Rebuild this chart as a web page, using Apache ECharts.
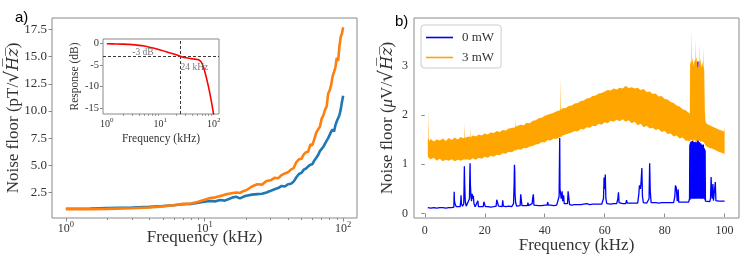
<!DOCTYPE html>
<html><head><meta charset="utf-8">
<script src="https://cdn.jsdelivr.net/npm/echarts@6/dist/echarts.min.js"></script>
<style>html,body{margin:0;padding:0;background:#fff}#c{width:748px;height:255px}</style>
</head><body><div id="c"></div>
<script>
// ---------- Panel a: noise floor vs frequency (log x) ----------
const freqA = [1, 1.5, 2, 3, 4, 5, 6, 7, 8, 9, 10, 11, 12, 13, 14, 15, 16, 17, 18, 19, 20, 22, 24, 26, 28, 30, 32, 34, 36, 38, 40, 42, 44, 46, 48, 50, 52, 54, 56, 58, 60, 62, 64, 66, 68, 70, 72, 74, 76, 78, 80, 82, 84, 86, 88, 90, 92, 94, 96, 98, 100];
const noiseBlueA = [1.0, 1.03, 1.07, 1.12, 1.17, 1.25, 1.33, 1.42, 1.45, 1.55, 1.65, 1.72, 1.68, 1.8, 1.75, 1.9, 2.05, 2.1, 1.95, 2.1, 2.2, 2.3, 2.35, 2.38, 2.5, 2.65, 2.8, 2.9, 3.1, 3.05, 3.25, 3.3, 3.5, 3.9, 4.2, 4.3, 4.6, 4.7, 4.9, 5.05, 5.1, 5.45, 5.7, 5.95, 6.3, 6.4, 6.7, 7.0, 7.1, 7.5, 7.65, 8.1, 8.3, 8.1, 8.7, 9.05, 9.2, 9.6, 10.1, 10.8, 11.4];
const noiseOrangeA = [0.95, 0.97, 0.99, 1.05, 1.12, 1.22, 1.32, 1.45, 1.48, 1.65, 1.82, 1.98, 2.05, 2.18, 2.3, 2.38, 2.45, 2.5, 2.45, 2.62, 2.7, 3.05, 3.25, 3.22, 3.55, 3.62, 3.85, 3.8, 4.1, 4.25, 4.35, 4.6, 4.75, 5.3, 5.55, 5.6, 6.0, 6.2, 6.25, 6.9, 6.85, 7.4, 8.0, 8.3, 8.55, 9.3, 9.6, 10.1, 10.4, 11.6, 11.9, 12.4, 13.2, 13.6, 14.0, 14.9, 14.6, 15.9, 16.8, 17.1, 17.7];
const yTicksA = [2.5, 5, 7.5, 10, 12.5, 15, 17.5];
const logMajor = [1, 10, 100];
const logMinor = [2, 3, 4, 5, 6, 7, 8, 9, 20, 30, 40, 50, 60, 70, 80, 90];

// ---------- Inset: filter response ----------
const respFreq = [1, 1.5, 2, 3, 4, 5, 6, 7, 8, 10, 13, 16, 20, 24, 28, 35, 42, 50, 56, 60, 65, 70, 75, 80, 85, 90, 95, 100];
const respDb = [0, -0.05, -0.1, -0.22, -0.38, -0.55, -0.75, -0.95, -1.12, -1.45, -1.85, -2.2, -2.6, -2.95, -3.2, -3.4, -3.55, -3.7, -4.0, -4.5, -5.6, -7.0, -8.5, -10.0, -11.6, -13.2, -14.9, -16.6];
const cutoffDb = -3;
const cutoffFreq = 24;
const insetYTicks = [0, -5, -10, -15];
const insetNotes = [[3.0, -2.1, '-3 dB'], [24, -5.6, '24 kHz']];

// ---------- Panel b: noise spectra ----------
// [frequency kHz, noise µV/√Hz]
const blueB = [[1.0,0.12],[2,0.11],[3,0.12],[4,0.11],[5,0.12],[6,0.12],[7,0.11],[8,0.12],[9,0.12],[9.7,0.13],[9.8,0.44],[9.9,0.25],[10.1,0.2],[10.5,0.14],[11,0.13],[11.8,0.14],[12.0,0.26],[12.1,0.37],[12.2,0.2],[12.6,0.15],[13.0,0.2],[13.1,0.55],[13.2,0.96],[13.3,0.6],[13.5,0.25],[13.8,0.15],[14.2,0.14],[14.9,0.3],[15.0,0.7],[15.1,1.02],[15.2,0.6],[15.4,0.35],[15.6,0.25],[15.8,0.4],[16.0,0.3],[16.2,0.36],[16.4,0.2],[16.8,0.14],[17.4,0.13],[17.7,0.26],[17.9,0.14],[18.5,0.13],[19.5,0.14],[19.7,0.24],[20.0,0.2],[20.2,0.14],[21,0.14],[22,0.13],[23,0.14],[23.8,0.15],[24.0,0.28],[24.3,0.26],[24.6,0.15],[25,0.14],[25.8,0.14],[26.0,0.27],[26.2,0.15],[27,0.14],[28,0.15],[29,0.14],[29.6,0.2],[29.8,0.6],[29.9,0.99],[30.0,0.85],[30.1,0.4],[30.3,0.22],[30.6,0.15],[31,0.15],[31.8,0.16],[32.0,0.39],[32.2,0.36],[32.4,0.16],[33,0.15],[34.2,0.16],[34.4,0.22],[34.6,0.16],[35,0.15],[35.8,0.2],[36.0,0.32],[36.2,0.39],[36.4,0.17],[37,0.16],[38,0.16],[39,0.16],[40,0.17],[40.8,0.17],[41.0,0.23],[41.2,0.17],[42,0.17],[43,0.16],[44,0.17],[44.6,0.2],[44.8,0.35],[45.0,1.53],[45.1,0.5],[45.3,0.54],[45.5,0.3],[45.8,0.45],[46.0,0.25],[46.3,0.37],[46.5,0.2],[47,0.18],[47.6,0.2],[47.8,0.45],[48.1,0.43],[48.3,0.18],[49,0.17],[50,0.18],[51,0.18],[52,0.18],[53,0.19],[54,0.2],[55,0.18],[56,0.19],[57,0.19],[58,0.19],[59,0.19],[59.6,0.3],[59.8,0.73],[60.0,0.5],[60.2,0.79],[60.4,0.3],[60.7,0.2],[61,0.19],[62,0.19],[63,0.2],[64,0.2],[64.4,0.3],[64.6,0.43],[64.8,0.22],[65,0.2],[66,0.2],[67,0.2],[67.3,0.27],[67.5,0.21],[68,0.2],[69,0.21],[70,0.21],[71,0.21],[71.4,0.4],[71.6,0.57],[71.9,0.5],[72.1,0.6],[72.4,0.92],[72.6,0.35],[72.9,0.22],[73.5,0.21],[74,0.21],[74.8,0.3],[75.0,1.02],[75.2,0.45],[75.5,0.22],[76,0.21],[77,0.22],[78,0.21],[79,0.22],[80,0.22],[81,0.22],[82,0.22],[83,0.22],[83.4,0.35],[83.6,0.57],[83.9,0.52],[84.2,0.25],[84.5,0.49],[84.7,0.23],[85,0.22],[86,0.23],[87,0.23],[88,0.23],
[88.3,0.3],[88.4,1.40],[88.5,0.28],[88.6,1.44],[88.7,0.32],[88.8,1.46],[88.9,0.3],[89.0,1.42],[89.1,0.35],[89.2,1.47],[89.3,0.3],[89.4,1.48],[89.5,0.4],[89.6,1.38],[89.7,0.3],[89.8,1.45],[89.9,0.33],[90.0,1.44],[90.1,0.3],[90.2,1.42],[90.3,0.35],[90.4,1.46],[90.5,0.3],[90.6,1.44],[90.7,0.38],[90.8,1.36],[90.9,0.3],[91.0,1.43],[91.1,3.08],[91.2,0.32],[91.3,1.41],[91.4,0.3],[91.5,1.45],[91.6,0.35],[91.7,1.44],[91.8,0.3],[91.9,1.38],[92.0,0.33],[92.1,1.42],[92.2,0.3],[92.3,1.4],[92.4,0.36],[92.5,1.35],[92.6,0.3],[92.7,1.39],[92.8,0.32],[92.9,1.40],[93.0,0.3],[93.1,1.33],[93.2,0.3],[93.3,1.31],[93.4,0.28],[93.5,1.28],[93.6,0.25],
[94,0.24],[95,0.24],[95.3,0.3],[95.5,0.74],[95.7,0.4],[95.9,0.3],[96.1,0.6],[96.3,0.26],[96.7,0.3],[96.9,0.64],[97.1,0.26],[98,0.25],[99,0.25],[100,0.25]];
// [frequency kHz, lower edge, upper edge] of the 3 mW noise band
const orangeBand = [[1.0,1.15,1.50],[1.2,1.13,1.52],[1.3,1.14,2.10],[1.4,1.12,1.47],[2,1.10,1.51],[3,1.13,1.46],[4,1.07,1.50],[5,1.11,1.48],[6,1.06,1.52],[7,1.09,1.47],[8,1.07,1.53],[9,1.10,1.49],[10,1.06,1.54],[11,1.09,1.50],[12,1.07,1.55],[13.1,1.10,1.52],[13.2,1.12,1.84],[13.3,1.08,1.53],[14,1.10,1.55],[15.1,1.08,1.56],[15.2,1.11,1.72],[15.3,1.09,1.54],[16,1.12,1.58],[17,1.09,1.56],[18,1.13,1.60],[19,1.11,1.58],[20,1.15,1.62],[21,1.13,1.60],[22,1.17,1.64],[23,1.15,1.63],[24,1.19,1.67],[25,1.18,1.65],[26,1.22,1.69],[27,1.21,1.68],[28,1.25,1.72],[29,1.24,1.73],[30.1,1.28,1.75],[30.2,1.30,1.91],[30.3,1.27,1.76],[31,1.30,1.78],[32,1.29,1.80],[33,1.33,1.79],[34,1.32,1.84],[35,1.36,1.83],[36,1.37,1.88],[37,1.40,1.89],[38,1.41,1.93],[39,1.45,1.94],[40,1.44,1.98],[41,1.49,2.00],[42,1.48,2.02],[43,1.52,2.04],[44,1.51,2.07],[45.1,1.55,2.09],[45.2,1.56,2.77],[45.3,1.54,2.10],[46,1.58,2.13],[47,1.60,2.14],[48,1.62,2.18],[49,1.64,2.19],[50,1.67,2.23],[51,1.66,2.24],[52,1.71,2.28],[53,1.70,2.29],[54,1.75,2.33],[55,1.74,2.34],[56,1.78,2.38],[57,1.77,2.39],[58,1.82,2.43],[59,1.80,2.44],[60,1.85,2.47],[61,1.83,2.50],[62,1.88,2.49],[63,1.86,2.53],[64,1.90,2.51],[65,1.87,2.55],[66,1.91,2.53],[67,1.86,2.59],[68,1.89,2.54],[69,1.83,2.56],[70,1.86,2.53],[71,1.79,2.55],[72,1.82,2.50],[73,1.75,2.52],[74,1.78,2.46],[75,1.72,2.47],[76,1.74,2.42],[77,1.69,2.43],[78,1.71,2.37],[79,1.65,2.38],[80,1.67,2.32],[81,1.61,2.31],[82,1.62,2.26],[83,1.56,2.24],[84,1.58,2.19],[85,1.52,2.17],[86,1.54,2.11],[87,1.48,2.09],[88,1.47,2.04],[88.4,1.46,2.02],[88.5,1.50,3.10],[88.8,1.48,3.02],[88.9,1.50,3.76],[89.0,1.49,3.05],[89.3,1.47,3.15],[89.6,1.50,2.98],[89.9,1.48,3.12],[90.1,1.49,3.04],[90.2,1.47,3.52],[90.3,1.49,3.08],[90.6,1.46,3.18],[90.9,1.48,2.96],[91.2,1.47,2.97],[91.4,1.49,3.02],[91.5,1.46,3.45],[91.6,1.48,3.06],[91.9,1.45,3.14],[92.2,1.47,2.95],[92.5,1.45,3.08],[92.8,1.46,2.98],[92.9,1.44,3.38],[93.0,1.45,3.00],[93.2,1.43,2.90],[93.4,1.41,2.10],[93.6,1.38,1.88],[94,1.36,1.82],[95,1.33,1.79],[96,1.31,1.76],[97,1.28,1.73],[98,1.25,1.70],[99,1.23,1.68],[99.8,1.21,1.66],[99.9,1.20,1.74],[100,1.20,1.66]];
const xTicksB = [0, 20, 40, 60, 80, 100];
const yTicksB = [0, 1, 2, 3];
const legendNames = ['0 mW', '3 mW'];

// ---------- build ----------
const SERIF = '"Liberation Serif", "DejaVu Serif", serif';
const TXT = '#333';
const FRAME = '#8a8a8a';
const ORANGE = '#ffa500';
const supRich = {
  b: { fontFamily: SERIF, fontSize: 12, color: TXT, verticalAlign: 'bottom' },
  s: { fontFamily: SERIF, fontSize: 8.5, color: TXT, verticalAlign: 'bottom', padding: [0, 0, 6, 0] }
};
const supRichSmall = {
  b: { fontFamily: SERIF, fontSize: 10, color: TXT, verticalAlign: 'bottom' },
  s: { fontFamily: SERIF, fontSize: 7, color: TXT, verticalAlign: 'bottom', padding: [0, 0, 5, 0] }
};
function powLabel(v) { return '{b|10}{s|' + Math.round(Math.log10(v)) + '}'; }
function numA(v) { return v.toFixed(1); }
const titleRich = {
  t: { fontFamily: SERIF, fontSize: 17, color: TXT },
  m: { fontFamily: SERIF, fontStyle: 'italic', fontSize: 17, color: TXT },
  r: { fontFamily: '"DejaVu Serif", serif', fontSize: 19, color: TXT },
  h: { fontFamily: '"DejaVu Serif", serif', fontStyle: 'italic', fontSize: 16, color: TXT }
};

const chart = echarts.init(document.getElementById('c'), null, { renderer: 'canvas' });

const gridCommon = { show: true, borderColor: FRAME, borderWidth: 1, backgroundColor: '#fff', containLabel: false, outerBoundsMode: 'none' };
const noAxisLine = { show: false };

// the 3 mW band drawn as one filled polygon through the axis scales
const bandRender = function (params, api) {
  const pts = [];
  for (let i = 0; i < orangeBand.length; i++) pts.push(api.coord([orangeBand[i][0], orangeBand[i][2]]));
  for (let i = orangeBand.length - 1; i >= 0; i--) pts.push(api.coord([orangeBand[i][0], orangeBand[i][1]]));
  return { type: 'polygon', shape: { points: pts }, style: { fill: ORANGE } };
};

const option = {
  animation: false,
  backgroundColor: '#fff',
  title: [
    { text: 'a)', left: 10, top: 5, textStyle: { fontFamily: '"Liberation Sans", Arial, sans-serif', fontSize: 15, fontWeight: 'normal', color: '#000' } },
    { text: 'b)', left: 390, top: 9, textStyle: { fontFamily: '"Liberation Sans", Arial, sans-serif', fontSize: 15, fontWeight: 'normal', color: '#000' } }
  ],
  legend: {
    data: legendNames,
    orient: 'vertical',
    left: 421, top: 25, z: 20,
    padding: [5, 7, 3, 5],
    icon: 'rect',
    itemWidth: 27, itemHeight: 1.6, itemGap: 5,
    backgroundColor: 'rgba(255,255,255,0.85)',
    borderColor: '#cccccc', borderWidth: 1, borderRadius: 3,
    textStyle: { fontFamily: SERIF, fontSize: 13, color: TXT, padding: [0, 0, 0, 4], lineHeight: 15 }
  },
  grid: [
    Object.assign({ left: 52, top: 18, width: 305, height: 200 }, gridCommon),
    Object.assign({ left: 103, top: 39, width: 116, height: 75, z: 5 }, gridCommon),
    Object.assign({ left: 414, top: 18, width: 325, height: 200 }, gridCommon)
  ],
  xAxis: [
    { gridIndex: 0, type: 'log', logBase: 10, min: 0.794, max: 125.9, position: 'bottom',
      name: 'Frequency (kHz)', nameLocation: 'middle', nameGap: 11, nameMoveOverlap: false,
      nameTextStyle: { fontFamily: SERIF, fontSize: 17, color: TXT },
      axisLine: noAxisLine, splitLine: { show: false },
      axisTick: { customValues: logMajor, length: 3.5, lineStyle: { color: FRAME } },
      axisLabel: { customValues: logMajor, formatter: powLabel, rich: supRich, margin: 2 } },
    { gridIndex: 0, type: 'log', logBase: 10, min: 0.794, max: 125.9, position: 'bottom',
      axisLine: noAxisLine, splitLine: { show: false }, axisLabel: { show: false },
      axisTick: { customValues: logMinor, length: 2, lineStyle: { color: FRAME } } },
    { gridIndex: 1, type: 'log', logBase: 10, min: 0.85, max: 126, position: 'bottom',
      name: 'Frequency (kHz)', nameLocation: 'middle', nameGap: 19, nameMoveOverlap: false,
      nameTextStyle: { fontFamily: SERIF, fontSize: 11.5, color: TXT },
      axisLine: noAxisLine, splitLine: { show: false },
      axisTick: { customValues: logMajor, length: 3, lineStyle: { color: FRAME } },
      axisLabel: { customValues: logMajor, formatter: powLabel, rich: supRichSmall, margin: 3 } },
    { gridIndex: 1, type: 'log', logBase: 10, min: 0.85, max: 126, position: 'bottom',
      axisLine: noAxisLine, splitLine: { show: false }, axisLabel: { show: false },
      axisTick: { customValues: logMinor, length: 1.8, lineStyle: { color: FRAME } } },
    { gridIndex: 2, type: 'value', min: -3.6, max: 104.8, position: 'bottom',
      name: 'Frequency (kHz)', nameLocation: 'middle', nameGap: 19, nameMoveOverlap: false,
      nameTextStyle: { fontFamily: SERIF, fontSize: 17, color: TXT },
      axisLine: noAxisLine, splitLine: { show: false },
      axisTick: { customValues: xTicksB, length: 3.5, lineStyle: { color: FRAME } },
      axisLabel: { customValues: xTicksB, fontFamily: SERIF, fontSize: 12, color: TXT, margin: 7 } }
  ],
  yAxis: [
    { gridIndex: 0, type: 'value', min: 0.15, max: 18.55,
      name: '{t|Noise floor (pT/}{r|√}{h|H\u0305z\u0305}{t|)}', nameLocation: 'middle', nameGap: 29, nameRotate: 90, nameMoveOverlap: false,
      nameTextStyle: { rich: titleRich },
      axisLine: noAxisLine, splitLine: { show: false },
      axisTick: { customValues: yTicksA, length: 3.5, lineStyle: { color: FRAME } },
      axisLabel: { customValues: yTicksA, formatter: numA, fontFamily: SERIF, fontSize: 13, color: TXT, margin: 5 } },
    { gridIndex: 1, type: 'value', min: -16.4, max: 1.1,
      name: 'Response (dB)', nameLocation: 'middle', nameGap: 22, nameRotate: 90, nameMoveOverlap: false,
      nameTextStyle: { fontFamily: SERIF, fontSize: 11.5, color: TXT },
      axisLine: noAxisLine, splitLine: { show: false },
      axisTick: { customValues: insetYTicks, length: 3, lineStyle: { color: FRAME } },
      axisLabel: { customValues: insetYTicks, fontFamily: SERIF, fontSize: 10.5, color: TXT, margin: 4 } },
    { gridIndex: 2, type: 'value', min: -0.09, max: 3.96,
      name: '{t|Noise floor (}{m|μ}{t|V/}{r|√}{h|H\u0305z\u0305}{t|)}', nameLocation: 'middle', nameGap: 17, nameRotate: 90, nameMoveOverlap: false,
      nameTextStyle: { rich: titleRich },
      axisLine: noAxisLine, splitLine: { show: false },
      axisTick: { customValues: yTicksB, length: 3.5, lineStyle: { color: FRAME } },
      axisLabel: { customValues: yTicksB, fontFamily: SERIF, fontSize: 12, color: TXT, margin: 6 } }
  ],
  series: [
    { name: 'blueA', type: 'line', xAxisIndex: 0, yAxisIndex: 0, symbol: 'none',
      data: freqA.map((f, i) => [f, noiseBlueA[i]]),
      lineStyle: { color: '#1f77b4', width: 2.6 }, itemStyle: { color: '#1f77b4' }, z: 2 },
    { name: 'orangeA', type: 'line', xAxisIndex: 0, yAxisIndex: 0, symbol: 'none',
      data: freqA.map((f, i) => [f, noiseOrangeA[i]]),
      lineStyle: { color: '#ff7f0e', width: 2.6 }, itemStyle: { color: '#ff7f0e' }, z: 3 },
    { name: 'response', type: 'line', xAxisIndex: 2, yAxisIndex: 1, symbol: 'none', smooth: 0.3, z: 10,
      data: respFreq.map((f, i) => [f, respDb[i]]),
      lineStyle: { color: '#ff0000', width: 1.6 }, itemStyle: { color: '#ff0000' },
      markLine: { symbol: 'none', silent: true, z: 9,
        lineStyle: { color: '#222', type: [3, 2], width: 0.9 }, label: { show: false },
        data: [{ yAxis: cutoffDb }, { xAxis: cutoffFreq }] } },
    { name: 'notes', type: 'scatter', xAxisIndex: 2, yAxisIndex: 1, symbolSize: 0, z: 11, silent: true,
      data: insetNotes.map(n => ({ value: [n[0], n[1]], label: { formatter: n[2] } })),
      label: { show: true, position: 'right', distance: 0, fontFamily: SERIF, fontSize: 9.5, color: '#555' } },
    { name: '0 mW', type: 'line', xAxisIndex: 4, yAxisIndex: 2, symbol: 'none',
      data: blueB, lineStyle: { color: '#0000ff', width: 1.3 }, itemStyle: { color: '#0000ff' }, z: 1 },
    { name: '3 mW', type: 'custom', xAxisIndex: 4, yAxisIndex: 2, renderItem: bandRender,
      data: [[orangeBand[0][0], orangeBand[0][1]]], itemStyle: { color: ORANGE }, z: 2 }
  ]
};
chart.setOption(option);
</script>
</body></html>
